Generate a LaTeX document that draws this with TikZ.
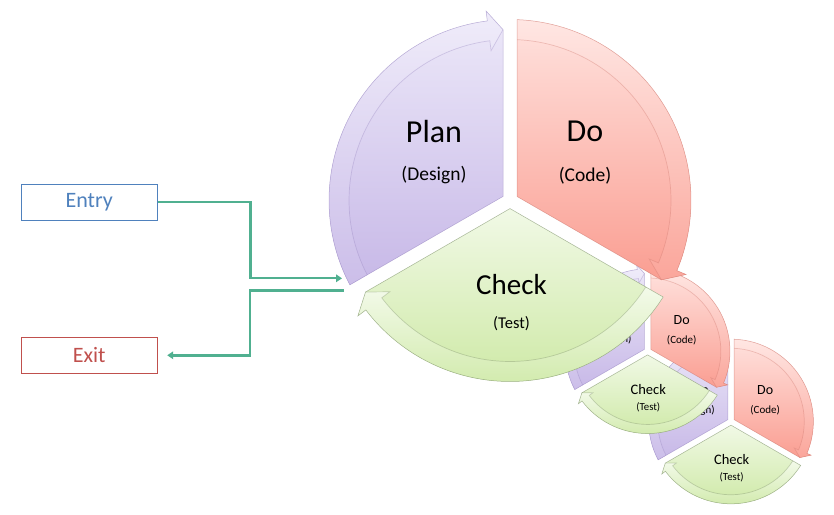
\documentclass[tikz,border=0pt]{standalone}
\usepackage{fontspec}
\setmainfont{Carlito}
\usetikzlibrary{calc,arrows.meta}
\definecolor{planTop}{RGB}{237,233,249}
\definecolor{planBot}{RGB}{199,184,231}
\definecolor{planLine}{RGB}{150,132,192}
\definecolor{doTop}{RGB}{255,226,222}
\definecolor{doBot}{RGB}{250,158,146}
\definecolor{doLine}{RGB}{206,118,108}
\definecolor{checkTop}{RGB}{241,249,230}
\definecolor{checkBot}{RGB}{206,233,166}
\definecolor{checkLine}{RGB}{118,138,98}
\definecolor{flowTeal}{RGB}{80,176,144}
\definecolor{entryBlue}{RGB}{79,129,189}
\definecolor{exitRed}{RGB}{192,80,77}
\newcommand{\PdcaSeg}[4]{%
\shade[top color=#2,bottom color=#3] (#1:8.08) -- (#1+57.78:181) arc[start angle=#1+57.78,end angle=#1-52.8,radius=181] -- (#1-52.8:191) -- (#1-57.65:171) -- cycle;
\shade[top color=#2!85!white,bottom color=#3!92!white] (#1+57.78:181) arc[start angle=#1+57.78,end angle=#1-52.8,radius=181] -- (#1-52.8:191) -- (#1-57.65:171) -- (#1-52.8:151) -- (#1-52.8:161) arc[start angle=#1-52.8,end angle=#1+57.5,radius=161] -- cycle;
\draw[#4,line width=0.7pt,opacity=0.35] (#1+57.5:161) arc[start angle=#1+57.5,end angle=#1-52.8,radius=161] -- (#1-52.8:151) -- (#1-57.65:171);
\draw[#4,line width=0.5pt,opacity=0.6] (#1:8.08) -- (#1+57.78:181) arc[start angle=#1+57.78,end angle=#1-52.8,radius=181] -- (#1-52.8:191) -- (#1-57.65:171) -- cycle;}
\newcommand{\PdcaCycle}{%
\PdcaSeg{150}{planTop}{planBot}{planLine}%
\PdcaSeg{30}{doTop}{doBot}{doLine}%
\PdcaSeg{270}{checkTop}{checkBot}{checkLine}}
\newcommand{\PdcaText}[5]{%
\node (#1Plan) at (-76,69) {\fontsize{#2}{#2}\selectfont Plan};
\node (#1Design) at (-76,25) {\fontsize{#3}{#3}\selectfont (Design)};
\node (#1Do) at (75,69) {\fontsize{#2}{#2}\selectfont Do};
\node (#1Code) at (75,25) {\fontsize{#3}{#3}\selectfont (Code)};
\node (#1Check) at (1.5,-84.5) {\fontsize{#4}{#4}\selectfont Check};
\node (#1Test) at (1.5,-123) {\fontsize{#5}{#5}\selectfont (Test)};}
\tikzset{
box/.style={minimum width=136pt,minimum height=36pt,line width=1.2pt,inner sep=0pt,font=\fontsize{22}{22}\selectfont},
flow/.style={draw=flowTeal,line width=2.4pt,-{Triangle[length=6pt,width=7.5pt]}}
}

\begin{document}
\begin{tikzpicture}[x=1pt,y=1pt]
\fill[white] (0,0) rectangle (834,514);
\useasboundingbox (0,0) rectangle (834,514);
\begin{scope}[shift={(731,92.5)},scale=0.455]
\PdcaCycle
\PdcaText{small}{14}{11}{14.5}{10.8}
\end{scope}
\begin{scope}[shift={(647.6,162.8)},scale=0.455]
\PdcaCycle
\PdcaText{mid}{14}{11}{14.5}{10.8}
\end{scope}
\begin{scope}[shift={(510,313.5)}]
\PdcaCycle
\PdcaText{big}{32}{19.5}{29}{16.5}
\end{scope}
\node[box,draw=entryBlue,text=entryBlue] (entry) at (89.2,311.8) {Entry};
\node[box,draw=exitRed,text=exitRed] (exit) at (89.2,158.7) {Exit};
\coordinate (intoCycle) at (342,235.7);
\coordinate (fromCycle) at (343.5,223.3);
\draw[flow] (entry.east) -- ++(92.65,0) |- (intoCycle);
\draw[flow,shorten >=9.4pt] (fromCycle) -- ++(-93.5,0) |- (exit.east);
\end{tikzpicture}
\end{document}
